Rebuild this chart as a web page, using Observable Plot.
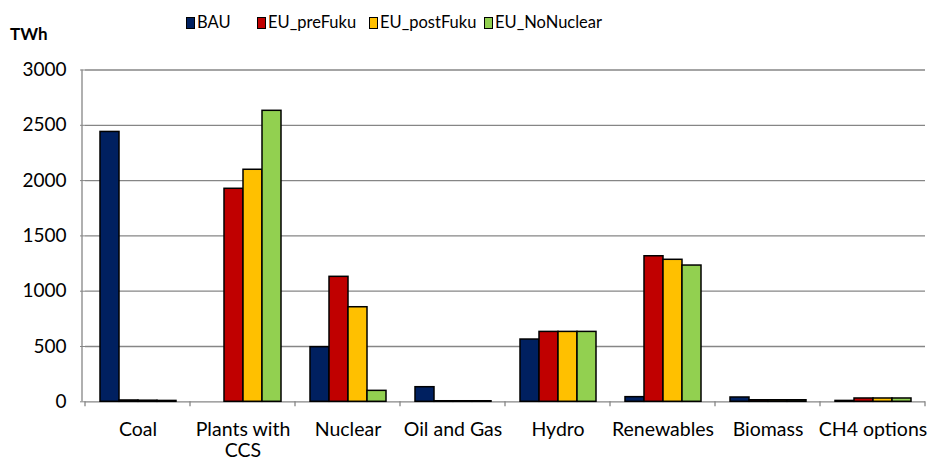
<!DOCTYPE html>
<html>
<head>
<meta charset="utf-8">
<script src="https://cdn.jsdelivr.net/npm/d3@7"></script>
<script src="https://cdn.jsdelivr.net/npm/@observablehq/plot@0.6"></script>
<style>
  html, body { margin: 0; padding: 0; background: #fff; }
  #wrap { position: relative; width: 928px; height: 464px; font-family: Lato, "Open Sans", sans-serif; }
  #wrap svg { position: absolute; left: 0; top: 0; }
  .leg { position: absolute; top: 12px; font-size: 16.5px; line-height: 20px; color: #000; white-space: nowrap; }
  .sw { display: inline-block; width: 7px; height: 10px; border: 1.5px solid #000; margin-right: 2px; vertical-align: -1px; }
  #unit { position: absolute; left: 10px; top: 23px; font-size: 17px; font-weight: bold; color: #000; }
</style>
</head>
<body>
<div id="wrap"></div>
<script>
const categories = ["Coal", "Plants with\nCCS", "Nuclear", "Oil and Gas", "Hydro", "Renewables", "Biomass", "CH4 options"];
const series = ["BAU", "EU_preFuku", "EU_postFuku", "EU_NoNuclear"];
const colors = ["#002060", "#C00000", "#FFC000", "#92D050"];
const BAU = [2440, 0, 494, 132, 563, 42, 39, 8];
const EU_preFuku = [12, 1926, 1130, 5, 632, 1316, 14, 30];
const EU_postFuku = [10, 2098, 855, 5, 632, 1284, 14, 30];
const EU_NoNuclear = [8, 2631, 99, 5, 632, 1232, 14, 30];
const yTicks = [0, 500, 1000, 1500, 2000, 2500, 3000];
const unitLabel = "TWh";

const valuesBySeries = [BAU, EU_preFuku, EU_postFuku, EU_NoNuclear];
const data = [];
categories.forEach((c, i) => {
  series.forEach((s, j) => {
    data.push({category: c, series: s, value: valuesBySeries[j][i]});
  });
});

const gridColor = "#868686";

const chart = Plot.plot({
  width: 928,
  height: 464,
  marginTop: 69.5,
  marginBottom: 62.7,
  marginLeft: 82,
  marginRight: 0,
  style: {fontFamily: "Lato, 'Open Sans', sans-serif", fontSize: "18px", color: "#000", background: "transparent"},
  fx: {domain: categories, padding: 0, label: null},
  x: {domain: series, paddingInner: 0, paddingOuter: 0.75, axis: null},
  y: {domain: [0, 3000], label: null},
  color: {domain: series, range: colors},
  marks: [
    Plot.gridY(yTicks, {stroke: gridColor, strokeOpacity: 1, strokeWidth: 1.3}),
    Plot.axisY(yTicks, {tickSize: 5, tickPadding: 14, stroke: gridColor, strokeOpacity: 1, fontSize: 19, label: null, tickFormat: d3.format("d")}),
    Plot.axisFx({anchor: "bottom", tickSize: 0, tickPadding: 19, label: null, fontSize: 19.5, lineHeight: 1.1}),
    Plot.barY(data.filter(d => d.value > 0), {fx: "category", x: "series", y: "value", fill: "series", stroke: "#000", strokeWidth: 1.5})
  ]
});

// Excel-style axis lines and boundary ticks, positioned from the Plot scales
const fx = chart.scale("fx");
const y = chart.scale("y");
const svg = d3.select(chart);
const y0 = y.apply(0);
const y3 = y.apply(3000);
const g = svg.append("g").attr("stroke", gridColor).attr("stroke-width", 1.3);
g.append("line").attr("x1", 82).attr("x2", 82).attr("y1", y3).attr("y2", y0);
const bounds = categories.map(c => fx.apply(c));
bounds.push(bounds[bounds.length - 1] + fx.bandwidth);
bounds.forEach(b => {
  const xb = Math.min(Math.max(b, 82.6), 927.4);
  g.append("line").attr("x1", xb).attr("x2", xb).attr("y1", y0).attr("y2", y0 + 5);
});

const wrap = document.getElementById("wrap");
wrap.appendChild(chart);

const unit = document.createElement("div");
unit.id = "unit";
unit.textContent = unitLabel;
wrap.appendChild(unit);

const legendX = [186, 257, 369, 484];
series.forEach((s, i) => {
  const item = document.createElement("div");
  item.className = "leg";
  item.style.left = legendX[i] + "px";
  const sw = document.createElement("span");
  sw.className = "sw";
  sw.style.background = colors[i];
  item.appendChild(sw);
  item.appendChild(document.createTextNode(s));
  wrap.appendChild(item);
});
</script>
</body>
</html>
